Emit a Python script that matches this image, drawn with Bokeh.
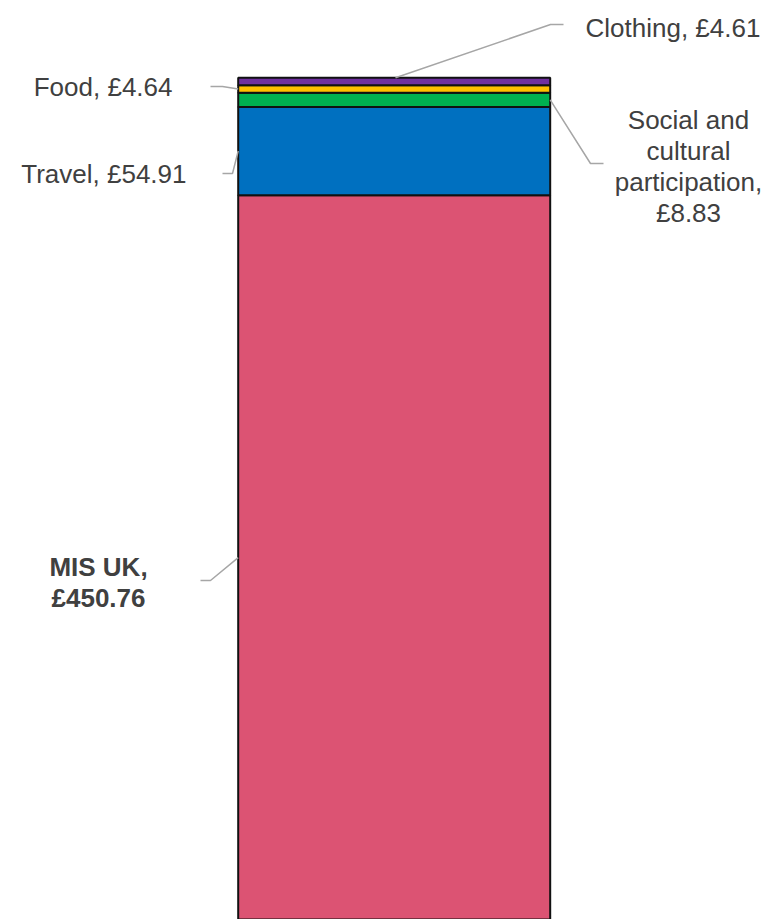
from bokeh.plotting import figure
from bokeh.models import Range1d, ColumnDataSource
from bokeh.core.properties import value
from bokeh.embed import file_html
from bokeh.resources import INLINE
import numpy as np

# ---- data ----
categories = ["MIS UK", "Travel", "Social and cultural participation", "Food", "Clothing"]
values = [450.76, 54.91, 8.83, 4.64, 4.61]
colors = ["#DC5373", "#0070C0", "#00B050", "#FFC000", "#7030A0"]
labels = ["MIS UK,\n£450.76", "Travel, £54.91", "Social and\ncultural\nparticipation,\n£8.83",
          "Food, £4.64", "Clothing, £4.61"]

W, H = 767, 919
PX_X = 312.0        # px per x unit (bar width = 1)
X0 = 393.7          # px of bar centre
PX_Y = 1.608        # px per £
Y0 = 919.5          # px of zero

def px2x(px):
    return (px - X0) / PX_X

def px2y(py):
    return (Y0 - py) / PX_Y

vals = np.array(values)
tops = np.cumsum(vals)
bottoms = tops - vals
mids = (tops + bottoms) / 2

p = figure(width=W, height=H, output_backend="svg", toolbar_location=None,
           x_range=Range1d(px2x(0), px2x(W)), y_range=Range1d(px2y(H), px2y(0)),
           min_border=0, min_border_left=0, min_border_right=0,
           min_border_top=0, min_border_bottom=0)
p.axis.visible = False
p.grid.visible = False
p.outline_line_color = None
p.background_fill_color = "white"
p.border_fill_color = "white"

src = ColumnDataSource(dict(x=[0] * len(values), bottom=bottoms, top=tops, color=colors))
p.vbar(x="x", width=1.0, bottom="bottom", top="top", fill_color="color",
       line_color="#111111", line_width=2, source=src)

# ---- leader lines (layout) ----
lead = dict(line_color="#A6A6A6", line_width=1.5)
L, R = -0.5, 0.5
# MIS UK
p.line([L, px2x(210), px2x(200)], [mids[0], px2y(580), px2y(580)], **lead)
# Travel
p.line([L, px2x(232), px2x(222)], [mids[1], px2y(173), px2y(173)], **lead)
# Social
p.line([R, px2x(590), px2x(603)], [mids[2], px2y(163), px2y(163)], **lead)
# Food
p.line([L, px2x(222), px2x(210)], [mids[3], px2y(86), px2y(86)], **lead)
# Clothing
p.line([px2x(395), px2x(550), px2x(563)], [tops[4], px2y(24), px2y(24)], **lead)

# ---- labels ----
font = value("Liberation Sans")
common = dict(text_font=font, text_font_size="26px", text_color="#404040",
              text_baseline="middle", text_line_height=1.03)
p.text(x=[px2x(98)], y=[px2y(582)], text=[labels[0]], text_align="center",
       text_font_style="bold", **common)
p.text(x=[px2x(186)], y=[px2y(173)], text=[labels[1]], text_align="right", **common)
p.text(x=[px2x(688)], y=[px2y(166)], text=[labels[2]], text_align="center", **common)
p.text(x=[px2x(172)], y=[px2y(86)], text=[labels[3]], text_align="right", **common)
p.text(x=[px2x(585)], y=[px2y(27)], text=[labels[4]], text_align="left", **common)

open("out.html", "w").write(file_html(p, INLINE))
